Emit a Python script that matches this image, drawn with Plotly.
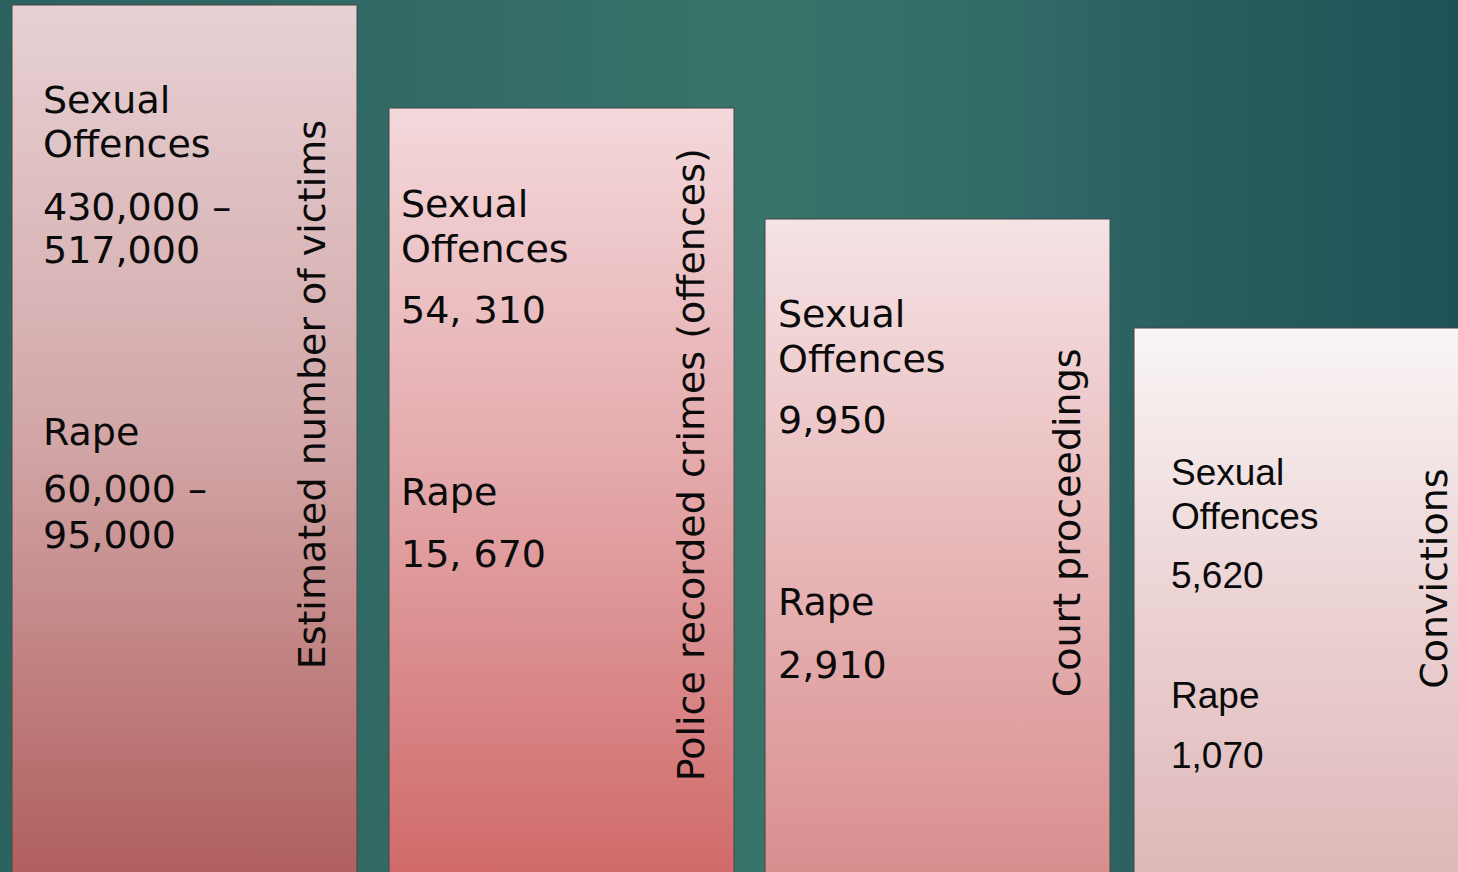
import plotly.graph_objects as go

# ---------------- data ----------------
stages = ["Estimated number of victims", "Police recorded crimes (offences)",
          "Court proceedings", "Convictions"]
offence_heading = ["Sexual", "Offences"]
rape_heading = ["Rape"]
sexual_offences = [["430,000 –", "517,000"], ["54, 310"], ["9,950"], ["5,620"]]
rape_counts = [["60,000 –", "95,000"], ["15, 670"], ["2,910"], ["1,070"]]

# ---------------- layout / style ----------------
W, H = 1458, 872
panel_left = [12, 389, 765, 1134]
panel_width = 345
panel_top = [5, 108, 219, 328]
panel_top_color = ["#e7d1d4", "#f3d8db", "#f5e3e5", "#f9f5f5"]
panel_mid_color = ["#d2a6a7", "#e3a6a8", "#e8b8b9", "#ecd3d4"]
panel_bot_color = ["#b0605e", "#d06a6a", "#d98e8e", "#dfb8b9"]
text_left = [41, 399, 776, 1169]
panel_font = ["DejaVu Sans", "DejaVu Sans", "DejaVu Sans", "Liberation Sans"]
panel_fs = [38, 38, 38, 37]
# baselines (pixels from top) for: heading lines, offence value lines, rape heading, rape value lines
heading_base = [[113, 157], [217, 262], [327, 372], [485, 529]]
offence_base = [[220, 263], [323], [433], [588]]
rape_head_base = [445, 505, 615, 708]
rape_base = [[502, 548], [567], [678], [768]]
stage_baseline_x = [325, 704, 1080, 1447]
stage_start_y = [671, 783, 699, 691]
stage_fs = 38


def Y(px):
    return H - px


fig = go.Figure()

# background gradient
fig.add_trace(go.Scatter(
    x=[0, W, W, 0, 0], y=[Y(0), Y(0), Y(H), Y(H), Y(0)],
    mode="lines", fill="toself", line=dict(width=0),
    fillgradient=dict(type="horizontal", start=0, stop=W,
                      colorscale=[[0, "#2c625f"], [0.3, "#326b65"], [0.52, "#38746a"],
                                  [0.68, "#326c67"], [0.82, "#295e5f"], [1, "#1f5257"]]),
    hoverinfo="skip", showlegend=False))

# panels
for i in range(len(stages)):
    l = panel_left[i]
    r = min(l + panel_width, W + 20)
    t = panel_top[i]
    fig.add_trace(go.Scatter(
        x=[l, r, r, l, l], y=[Y(H + 5), Y(H + 5), Y(t), Y(t), Y(H + 5)],
        mode="lines", fill="toself", line=dict(width=1, color="#474747"),
        fillgradient=dict(type="vertical", start=Y(H), stop=Y(t),
                          colorscale=[[0, panel_bot_color[i]], [0.5, panel_mid_color[i]],
                                      [1, panel_top_color[i]]]),
        hoverinfo="skip", showlegend=False))

annotations = []


def add_line(text, x, base, fam, fs):
    annotations.append(dict(
        text=text, x=x, y=Y(base - 0.346 * fs), xref="x", yref="y",
        xanchor="left", yanchor="middle", showarrow=False,
        font=dict(family=fam, size=fs, color="#0a0a0a")))


for i in range(len(stages)):
    fam, fs, x = panel_font[i], panel_fs[i], text_left[i]
    for txt, b in zip(offence_heading, heading_base[i]):
        add_line(txt, x, b, fam, fs)
    for txt, b in zip(sexual_offences[i], offence_base[i]):
        add_line(txt, x, b, fam, fs)
    add_line(rape_heading[0], x, rape_head_base[i], fam, fs)
    for txt, b in zip(rape_counts[i], rape_base[i]):
        add_line(txt, x, b, fam, fs)
    annotations.append(dict(
        text=stages[i], x=stage_baseline_x[i] - 0.346 * stage_fs, y=Y(stage_start_y[i]),
        xref="x", yref="y", xanchor="center", yanchor="bottom", textangle=-90,
        showarrow=False, font=dict(family="DejaVu Sans", size=stage_fs, color="#0a0a0a")))

fig.update_layout(
    width=W, height=H, margin=dict(l=0, r=0, t=0, b=0),
    paper_bgcolor="#2f6863", plot_bgcolor="#2f6863",
    xaxis=dict(range=[0, W], visible=False, fixedrange=True),
    yaxis=dict(range=[0, H], visible=False, fixedrange=True),
    annotations=annotations, showlegend=False)

fig.write_html("out.html", config={"displayModeBar": False},
               post_script="document.body.style.margin='0';document.body.style.overflow='hidden';")
